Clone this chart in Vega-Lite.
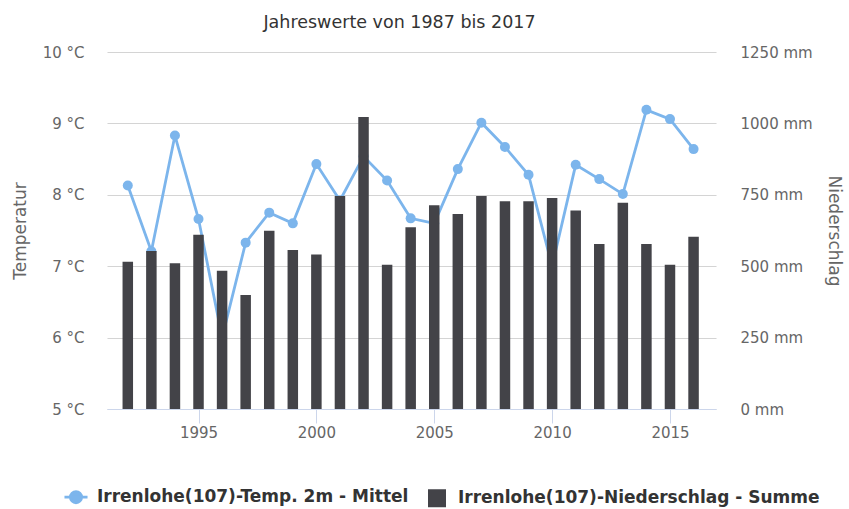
{
  "$schema": "https://vega.github.io/schema/vega-lite/v6.json",
  "width": 609,
  "height": 357,
  "autosize": {"type": "none"},
  "padding": {"left": 107, "top": 52, "right": 133, "bottom": 100},
  "background": "white",
  "config": {
    "view": {"stroke": null},
    "font": "DejaVu Sans"
  },
  "title": {
    "text": "Jahreswerte von 1987 bis 2017",
    "frame": "group",
    "anchor": "middle",
    "dx": -12,
    "fontSize": 17.5,
    "fontWeight": "normal",
    "color": "#333333",
    "font": "DejaVu Sans",
    "offset": 14
  },
  "data": {
    "values": [
      {"year": 1992, "temp": 8.13, "precip": 516},
      {"year": 1993, "temp": 7.21, "precip": 553},
      {"year": 1994, "temp": 8.83, "precip": 510},
      {"year": 1995, "temp": 7.66, "precip": 610},
      {"year": 1996, "temp": 6.0, "precip": 484},
      {"year": 1997, "temp": 7.33, "precip": 399},
      {"year": 1998, "temp": 7.75, "precip": 624},
      {"year": 1999, "temp": 7.6, "precip": 557},
      {"year": 2000, "temp": 8.43, "precip": 541},
      {"year": 2001, "temp": 7.92, "precip": 746},
      {"year": 2002, "temp": 8.54, "precip": 1022},
      {"year": 2003, "temp": 8.2, "precip": 505},
      {"year": 2004, "temp": 7.67, "precip": 636},
      {"year": 2005, "temp": 7.6, "precip": 713},
      {"year": 2006, "temp": 8.36, "precip": 683},
      {"year": 2007, "temp": 9.01, "precip": 746},
      {"year": 2008, "temp": 8.67, "precip": 727},
      {"year": 2009, "temp": 8.28, "precip": 727},
      {"year": 2010, "temp": 7.0, "precip": 739},
      {"year": 2011, "temp": 8.42, "precip": 695},
      {"year": 2012, "temp": 8.22, "precip": 578},
      {"year": 2013, "temp": 8.01, "precip": 722},
      {"year": 2014, "temp": 9.19, "precip": 578},
      {"year": 2015, "temp": 9.06, "precip": 505},
      {"year": 2016, "temp": 8.64, "precip": 603}
    ]
  },
  "encoding": {
    "x": {
      "field": "year",
      "type": "quantitative",
      "scale": {"domain": [1991.33, 2016.74], "nice": false, "zero": false},
      "axis": {
        "title": null,
        "values": [1995, 2000, 2005, 2010, 2015],
        "format": "d",
        "grid": false,
        "domainColor": "#ccd6eb",
        "domainWidth": 1,
        "tickColor": "#ccd6eb",
        "tickSize": 14,
        "labelPadding": 2,
        "labelFontSize": 15,
        "labelColor": "#666666",
        "labelFont": "DejaVu Sans"
      }
    }
  },
  "layer": [
    {
      "mark": {"type": "line", "color": "#7cb5ec", "strokeWidth": 2.8},
      "encoding": {
        "y": {
          "field": "temp",
          "type": "quantitative",
          "scale": {"domain": [5, 10], "nice": false, "zero": false},
          "axis": {
            "orient": "left",
            "title": "Temperatur",
            "titleFontSize": 17,
            "titleFontWeight": "normal",
            "titleColor": "#666666",
            "titleFont": "DejaVu Sans",
            "titlePadding": 13,
            "values": [5, 6, 7, 8, 9, 10],
            "labelExpr": "datum.value + ' °C'",
            "labelFontSize": 15,
            "labelColor": "#666666",
            "labelFont": "DejaVu Sans",
            "labelPadding": 23,
            "ticks": false,
            "tickSize": 0,
            "domain": false,
            "grid": true,
            "gridColor": "#d4d4d4",
            "gridWidth": 1.2
          }
        }
      }
    },
    {
      "mark": {"type": "point", "filled": true, "size": 100, "opacity": 1},
      "encoding": {
        "y": {"field": "temp", "type": "quantitative", "scale": {"domain": [5, 10], "nice": false, "zero": false}, "axis": null},
        "color": {
          "datum": "Irrenlohe(107)-Temp. 2m - Mittel",
          "type": "nominal",
          "scale": {
            "domain": ["Irrenlohe(107)-Temp. 2m - Mittel", "Irrenlohe(107)-Niederschlag - Summe"],
            "range": ["#7cb5ec", "#434348"]
          },
          "legend": {
            "orient": "none",
            "legendX": -39.5,
            "legendY": 436.5,
            "direction": "horizontal",
            "title": null,
            "padding": 0,
            "symbolSize": 324,
            "symbolOpacity": 1,
            "labelOffset": 12.5,
            "columnPadding": 19,
            "labelFontSize": 17,
            "labelFontWeight": "bold",
            "labelColor": "#333333",
            "labelFont": "DejaVu Sans",
            "labelLimit": 500,
            "encode": {
              "symbols": {
                "update": {
                  "shape": {"signal": "datum.value === 'Irrenlohe(107)-Niederschlag - Summe' ? 'square' : 'M-1.28,0L1.28,0M0.62,0A0.62,0.62,0,1,1,-0.62,0A0.62,0.62,0,1,1,0.62,0Z'"},
                  "fill": {"signal": "datum.value === 'Irrenlohe(107)-Niederschlag - Summe' ? '#434348' : '#7cb5ec'"},
                  "stroke": {"signal": "datum.value === 'Irrenlohe(107)-Niederschlag - Summe' ? '#434348' : '#7cb5ec'"},
                  "strokeWidth": {"signal": "datum.value === 'Irrenlohe(107)-Niederschlag - Summe' ? 0 : 2.8"},
                  "opacity": {"value": 1}
                }
              }
            }
          }
        }
      }
    },
    {
      "mark": {"type": "bar", "width": 10.5},
      "encoding": {
        "y": {
          "field": "precip",
          "type": "quantitative",
          "scale": {"domain": [0, 1250], "nice": false},
          "axis": {
            "orient": "right",
            "title": "Niederschlag",
            "titleFontSize": 17,
            "titleFontWeight": "normal",
            "titleColor": "#666666",
            "titleFont": "DejaVu Sans",
            "titlePadding": 12,
            "values": [0, 250, 500, 750, 1000, 1250],
            "labelExpr": "datum.value + ' mm'",
            "labelFontSize": 15,
            "labelColor": "#666666",
            "labelFont": "DejaVu Sans",
            "labelPadding": 24,
            "ticks": false,
            "tickSize": 0,
            "domain": false,
            "grid": false
          }
        },
        "color": {"datum": "Irrenlohe(107)-Niederschlag - Summe", "type": "nominal"}
      }
    }
  ],
  "resolve": {"scale": {"y": "independent"}}
}
